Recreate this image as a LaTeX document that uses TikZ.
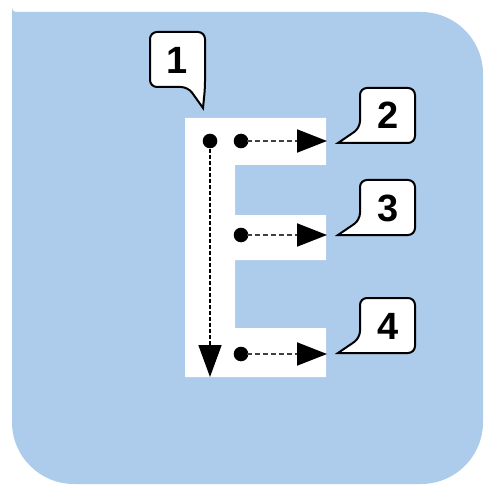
\documentclass[tikz,border=0pt]{standalone}
\usepackage{fontspec}
\setmainfont{Liberation Sans}
\usetikzlibrary{arrows.meta}
\definecolor{panel}{HTML}{ADCBEA}
\newcommand\num[1]{{\fontsize{19}{19}\selectfont\bfseries #1}}

\begin{document}
\begin{tikzpicture}[x=0.5pt, y=-0.5pt,
    dot/.style={circle, fill=black, inner sep=0pt, minimum size=7.3pt},
    flow/.style={black!75, line width=1pt, dash pattern=on 2.5pt off 1.5pt,
      -{Triangle[length=15pt, width=11.5pt, black]}, shorten <=-1pt},
    spine/.style={black, line width=0.8pt, dash pattern=on 2pt off 1pt,
      -{Triangle[length=16pt, width=11.5pt]}},
    bubble/.style={draw=black, fill=white, line width=1pt, rounded corners=3.5pt}]
        \useasboundingbox (0, 0) rectangle (483, 486);

        % panel
        \fill [panel, rounded corners=31pt] (12, 12) [rounded corners=2pt] -- (12, 12)
            [rounded corners=31pt] -- (483, 12) -- (483, 484) -- (12, 484) [rounded corners=2pt] -- cycle;

        % the letter
        \fill [white] (185, 118) -- (326, 118) -- (326, 165) -- (235, 165) -- (235, 215)
            -- (326, 215) -- (326, 260) -- (235, 260) -- (235, 328) -- (326, 328)
            -- (326, 377) -- (185, 377) -- cycle;

        % callouts
        \draw [bubble] (188, 87) -- (150, 87) -- (150, 32) -- (205, 32) -- (205, 88)
            [sharp corners] -- (203, 108) [rounded corners=3.5pt] -- cycle;
        \foreach \t in {88, 180, 298} {
          \draw [bubble] (360, \t + 40) -- (360, \t) -- (415, \t) -- (415, \t + 55)
              -- (345, \t + 55) [sharp corners] -- (338, \t + 55) [rounded corners=3.5pt] -- cycle;
        }
        \node (c1) at (177, 60) {\num{1}};
        \node (c2) at (388, 115) {\num{2}};
        \node (c3) at (388, 208) {\num{3}};
        \node (c4) at (388, 326) {\num{4}};

        % dots and arrows
        \node [dot] (d0) at (210, 141) {};
        \node [dot] (d1) at (241, 141) {};
        \node [dot] (d2) at (241, 235) {};
        \node [dot] (d3) at (241, 354) {};
        \coordinate (e0) at (210, 377);
        \coordinate (e1) at (327, 141);
        \coordinate (e2) at (327, 235);
        \coordinate (e3) at (327, 354);

        \draw [spine] (d0) -- (e0);
        \draw [flow] (d1) -- (e1);
        \draw [flow] (d2) -- (e2);
        \draw [flow] (d3) -- (e3);
      \end{tikzpicture}
\end{document}
